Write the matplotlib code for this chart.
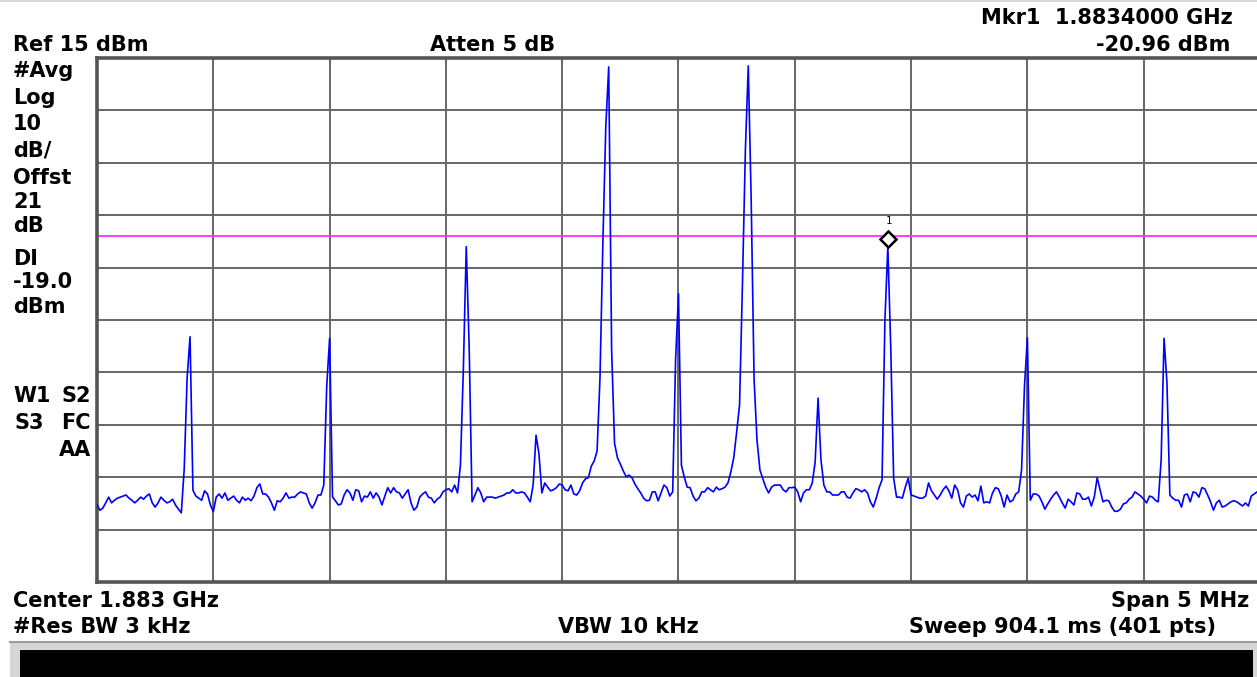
import matplotlib
matplotlib.use("Agg")
import matplotlib.pyplot as plt
import numpy as np
from matplotlib.transforms import offset_copy
from matplotlib.patches import Rectangle
from matplotlib.lines import Line2D

# ---------------- instrument settings ----------------
ref_level_dbm = 15.0
db_per_div = 10.0
n_divs = 10
center_ghz = 1.883
span_mhz = 5.0
n_pts = 401
display_line_dbm = -19.0
marker_index = 272
marker_value_dbm = -20.96

# ---------------- trace (dBm), 401 points ----------------
trace_dbm = [
    -70.3, -71.3, -70.9, -69.9, -68.8, -69.9, -69.4, -69.0, -68.8, -68.6,
    -68.4, -69.0, -69.4, -69.9, -69.4, -68.8, -69.2, -68.6, -68.2, -69.9,
    -70.7, -69.9, -68.8, -69.4, -69.9, -69.7, -69.2, -70.3, -71.1, -71.8,
    -63.4, -46.0, -38.2, -67.5, -68.6, -69.0, -69.4, -67.6, -68.2, -70.3,
    -71.6, -68.8, -68.2, -69.0, -68.0, -69.4, -69.0, -68.6, -69.4, -69.9,
    -68.8, -69.4, -69.0, -69.5, -68.6, -67.0, -66.3, -68.2, -68.2, -68.8,
    -69.9, -71.3, -69.5, -69.7, -69.0, -68.0, -69.0, -68.8, -68.8, -68.2,
    -67.8, -68.0, -68.2, -69.9, -70.9, -69.9, -68.4, -68.4, -66.5, -47.8,
    -38.5, -68.8, -69.5, -70.3, -70.1, -68.4, -67.4, -68.0, -69.4, -67.4,
    -67.6, -69.7, -68.6, -68.8, -67.8, -69.0, -68.0, -68.8, -70.3, -68.6,
    -67.0, -68.0, -67.0, -67.8, -68.0, -69.0, -68.2, -67.4, -69.9, -71.3,
    -70.7, -68.8, -68.2, -67.8, -68.8, -69.0, -69.9, -69.2, -68.8, -67.8,
    -67.4, -67.2, -67.8, -66.5, -68.0, -62.7, -44.5, -21.0, -40.0, -69.7,
    -68.4, -67.0, -68.0, -69.7, -68.8, -68.8, -68.8, -69.0, -68.8, -68.6,
    -68.4, -68.0, -68.0, -67.4, -68.0, -68.0, -67.8, -68.0, -68.8, -69.7,
    -66.5, -57.0, -60.5, -68.0, -66.1, -66.9, -67.6, -67.4, -67.0, -66.3,
    -66.5, -67.4, -67.6, -66.5, -68.2, -68.4, -67.6, -66.1, -65.3, -65.1,
    -62.9, -61.9, -60.0, -46.0, -20.0, 2.0, 13.3, -40.7, -58.5, -61.3,
    -62.5, -63.8, -64.9, -64.6, -65.1, -66.3, -67.2, -68.0, -69.0, -69.5,
    -69.4, -67.8, -67.8, -69.5, -68.0, -66.5, -67.0, -68.6, -67.8, -42.6,
    -30.0, -62.7, -65.0, -66.9, -67.0, -68.6, -69.5, -69.0, -67.8, -67.8,
    -67.0, -67.4, -67.8, -66.9, -67.4, -67.2, -66.9, -66.1, -64.0, -61.3,
    -56.4, -51.2, -28.0, -2.6, 13.5, -12.1, -46.4, -57.9, -63.6, -65.3,
    -66.9, -68.0, -66.9, -66.5, -66.5, -66.5, -67.4, -67.8, -67.0, -67.0,
    -66.9, -67.8, -69.7, -68.0, -67.4, -67.4, -66.1, -62.1, -49.9, -61.7,
    -66.5, -67.8, -67.8, -68.4, -68.4, -68.4, -67.8, -67.8, -68.8, -69.0,
    -68.0, -67.2, -67.4, -67.8, -67.4, -68.0, -69.7, -70.7, -69.0, -67.0,
    -65.5, -35.0, -20.96, -40.3, -65.2, -68.8, -68.8, -69.0, -66.9, -65.2,
    -68.4, -68.6, -68.8, -69.0, -69.0, -68.6, -66.1, -67.6, -68.4, -69.2,
    -68.4, -67.4, -66.7, -67.6, -69.0, -66.5, -67.4, -69.9, -70.7, -68.6,
    -68.2, -68.8, -68.4, -69.5, -66.7, -69.9, -69.7, -69.9, -68.0, -67.0,
    -67.2, -68.6, -70.7, -68.4, -69.7, -69.4, -68.2, -67.8, -63.6, -47.6,
    -38.4, -69.4, -68.2, -68.2, -68.6, -69.7, -71.1, -70.1, -69.2, -68.4,
    -67.8, -68.8, -69.9, -70.9, -69.2, -69.7, -70.3, -68.0, -68.2, -69.2,
    -69.2, -68.8, -70.5, -68.8, -65.1, -67.4, -69.7, -69.4, -69.5, -70.7,
    -71.5, -71.5, -71.1, -70.1, -69.9, -69.2, -68.8, -67.8, -68.2, -68.6,
    -69.2, -69.9, -68.6, -68.8, -69.4, -69.7, -61.7, -38.5, -47.0, -68.4,
    -69.0, -69.4, -69.4, -70.7, -68.4, -68.2, -69.7, -67.8, -68.0, -68.8,
    -67.0, -67.2, -68.4, -69.7, -71.3, -69.9, -69.4, -70.7, -70.5, -70.1,
    -69.7, -69.5, -69.7, -70.1, -70.5, -69.9, -70.5, -68.6, -68.2, -67.8,
    -67.8,
]

# ---------------- annotation texts ----------------
left_labels = ["#Avg", "Log", "10", "dB/", "Offst", "21", "dB", "DI", "-19.0", "dBm"]
left_label_baselines = [77, 104, 130, 157, 184, 208, 232, 265, 288, 313]

W, H = 1257, 677
fig = plt.figure(figsize=(W / 100, H / 100), dpi=100)
fig.patch.set_facecolor("white")


def fx(x):
    return x / W


def fy(y):
    return 1 - y / H


def txt(x, y, s, ha="left", size=15):
    fig.text(fx(x), fy(y), s, ha=ha, va="baseline", fontsize=size,
             fontweight="bold", family="DejaVu Sans", color="black")


# top thin gray line
fig.add_artist(Line2D([0, 1], [fy(0.8), fy(0.8)], color="#cfcfcf", lw=1.2,
                      transform=fig.transFigure))

# ---------------- plot area ----------------
ax = fig.add_axes([fx(97), fy(582), 1163 / W, 524 / H])
start_ghz = center_ghz - span_mhz / 2000.0
stop_ghz = center_ghz + span_mhz / 2000.0
freq_ghz = start_ghz + np.arange(n_pts) * (span_mhz / 1000.0) / (n_pts - 1)
trace = np.array(trace_dbm)

ax.set_xlim(start_ghz, stop_ghz)
ax.set_ylim(ref_level_dbm - n_divs * db_per_div, ref_level_dbm)
ax.set_xticks(np.linspace(start_ghz, stop_ghz, n_divs + 1))
ax.set_yticks(np.linspace(ref_level_dbm - n_divs * db_per_div, ref_level_dbm, n_divs + 1))
ax.grid(True, color="#666666", lw=1.4)
ax.set_axisbelow(True)
ax.tick_params(length=0, labelbottom=False, labelleft=False)
for s in ax.spines.values():
    s.set_color("#555555")
    s.set_linewidth(2.6)

ax.axhline(display_line_dbm, color="#ff2eff", lw=1.3, zorder=2)
ax.plot(freq_ghz, trace, color="#0000ff", lw=1.2, zorder=3)

# marker 1
mk_f = freq_ghz[marker_index]
mk_trans = offset_copy(ax.transData, fig=fig, x=0, y=5, units="points")
ax.plot([mk_f], [marker_value_dbm], marker="D", ms=8, mfc="white", mec="black",
        mew=1.8, transform=mk_trans, zorder=4, clip_on=False)
ax.annotate("1", xy=(mk_f, marker_value_dbm), xytext=(0.5, 18.5),
            textcoords="offset points", ha="center", va="center", fontsize=7.5,
            family="DejaVu Sans Mono", color="black")

# ---------------- texts ----------------
txt(1233, 24, "Mkr1  1.8834000 GHz", ha="right")
txt(13, 50.7, "Ref 15 dBm")
txt(430, 50.7, "Atten 5 dB")
txt(1230, 50.7, "-20.96 dBm", ha="right")

for s, yb in zip(left_labels, left_label_baselines):
    txt(13, yb, s)

txt(13, 401.7, "W1")
txt(91, 401.7, "S2", ha="right")
txt(15, 429, "S3")
txt(91, 429, "FC", ha="right")
txt(91, 456, "AA", ha="right")

txt(13, 606.7, "Center 1.883 GHz")
txt(1249, 606.7, "Span 5 MHz", ha="right")
txt(13, 633.3, "#Res BW 3 kHz")
txt(558, 633.3, "VBW 10 kHz")
txt(1216, 633.3, "Sweep 904.1 ms (401 pts)", ha="right")

# ---------------- bottom status bar ----------------
fig.add_artist(Rectangle((fx(10), 0), fx(W) - fx(10), fy(641), transform=fig.transFigure,
                         facecolor="#d6d6d6", edgecolor="none"))
fig.add_artist(Line2D([fx(10), 1], [fy(642), fy(642)], color="#9c9c9c", lw=1.5,
                      transform=fig.transFigure))
fig.add_artist(Rectangle((fx(20), 0), fx(1253) - fx(20), fy(650), transform=fig.transFigure,
                         facecolor="black", edgecolor="none"))

fig.savefig("out.png", dpi=100)
